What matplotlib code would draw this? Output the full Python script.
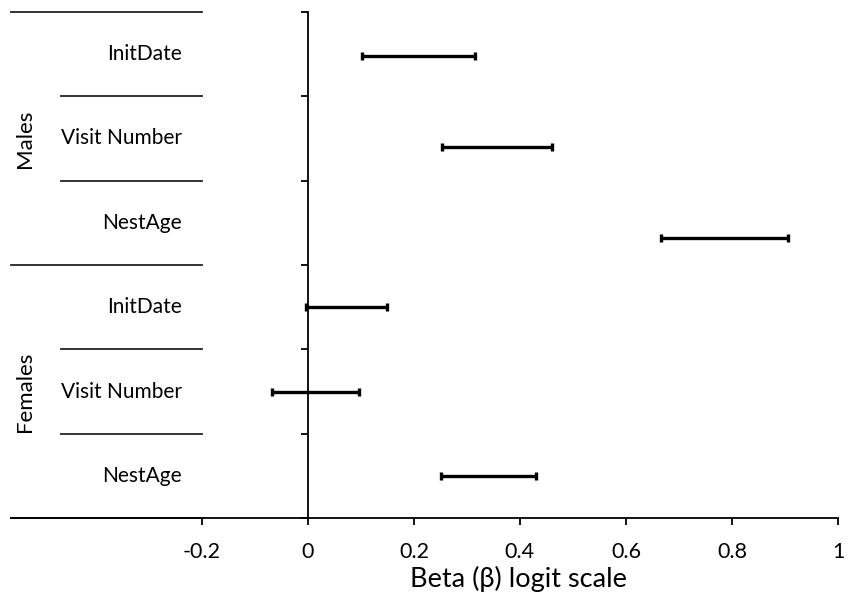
import matplotlib
matplotlib.use("Agg")
import matplotlib.pyplot as plt

groups = ["Males", "Females"]
labels = ["InitDate", "Visit Number", "NestAge", "InitDate", "Visit Number", "NestAge"]
lower = [0.103, 0.253, 0.667, -0.003, -0.067, 0.252]
upper = [0.316, 0.460, 0.906, 0.150, 0.097, 0.430]
bar_rows = [0.52, 1.60, 2.68, 3.50, 4.51, 5.50]
xticks = [-0.2, 0, 0.2, 0.4, 0.6, 0.8, 1]
xticklabels = ["-0.2", "0", "0.2", "0.4", "0.6", "0.8", "1"]

plt.rcParams['font.family'] = ['Lato', 'DejaVu Sans']

fig = plt.figure(figsize=(8.53, 6.0), dpi=100)
ax = fig.add_axes([11/853, 82/600, 827/853, 506/600])
ax.set_xlim(-0.56, 1.0)
ax.set_ylim(6, 0)

for s in ['top', 'right']:
    ax.spines[s].set_visible(False)
ax.spines['left'].set_position(('data', 0))
ax.spines['left'].set_linewidth(1.3)
ax.spines['bottom'].set_linewidth(1.3)

ax.set_yticks(range(0, 7))
ax.set_yticklabels([])
ax.tick_params(axis='y', direction='out', length=5, width=1.3)
ax.set_xticks(xticks)
ax.set_xticklabels(xticklabels, fontsize=15.5)
ax.tick_params(axis='x', direction='out', length=5, width=1.3, pad=12)

mid = [(l + u) / 2 for l, u in zip(lower, upper)]
half = [(u - l) / 2 for l, u in zip(lower, upper)]
ax.errorbar(mid, bar_rows, xerr=half, fmt='none', ecolor='black',
            elinewidth=2.4, capsize=3, capthick=2.4)

# separator lines
for b in range(0, 7):
    if b in (0, 3, 6):
        x0 = -0.56
    else:
        x0 = -0.466
    ax.plot([x0, -0.2], [b, b], color='#222222', lw=1.3, clip_on=False)

for i, lab in enumerate(labels):
    ax.text(-0.238, i + 0.5, lab, ha='right', va='center', fontsize=15)

for g, name in enumerate(groups):
    ax.text(-0.534, g * 3 + 1.5, name, rotation=90, ha='center', va='center', fontsize=16)

ax.set_xlabel("Beta (\u03b2) logit scale", fontsize=19.5, x=0.613, labelpad=3)

fig.savefig("out.png", dpi=100)
